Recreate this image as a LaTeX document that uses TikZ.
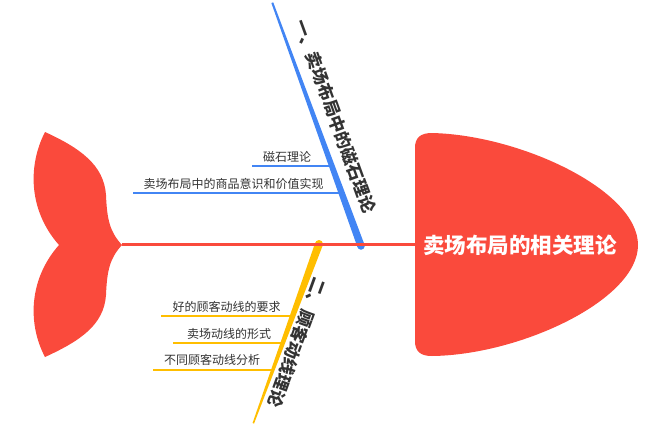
\documentclass[tikz,border=0pt]{standalone}
\usepackage{fontspec}
\setmainfont{Noto Sans CJK SC}
\usetikzlibrary{calc}
\definecolor{fishred}{RGB}{250,74,60}
\definecolor{bblue}{RGB}{66,133,244}
\definecolor{byellow}{RGB}{255,190,0}
\definecolor{txt}{RGB}{51,51,51}
\begin{document}
\begin{tikzpicture}[x=1pt,y=-1pt,
  sublabel/.style={font=\fontsize{12}{14}\selectfont, text=txt, inner sep=0pt},
  branchlabel/.style={font=\fontsize{17}{19}\selectfont\bfseries, text=txt, inner sep=0pt},
  subline/.style={line width=2pt},
  headlabel/.style={font=\fontsize{21.5}{24}\selectfont\bfseries, text=white, inner sep=0pt}
]
\useasboundingbox (0,0) rectangle (651,434);
% tail
\fill[fishred] (122,245) .. controls (110,232) and (107,220) .. (106,195)
  .. controls (104,165) and (80,148) .. (45,132)
  .. controls (28,165) and (28,210) .. (59,245)
  .. controls (28,280) and (28,325) .. (45,357)
  .. controls (80,341) and (104,325) .. (106,295)
  .. controls (107,270) and (110,258) .. (122,245) -- cycle;
% head
\fill[fishred] (415,148) .. controls (415,138) and (420,133) .. (432,133)
  .. controls (520,135) and (638,190) .. (638,245)
  .. controls (638,300) and (520,355) .. (432,356)
  .. controls (420,356) and (415,351) .. (415,341) -- cycle;
\node[headlabel] (head) at (520,245) {卖场布局的相关理论};
% key points
\coordinate (tailtip) at (122,244.5);
\coordinate (headleft) at (415,244.5);
\coordinate (bt) at (272.3,2.7);
\coordinate (bb) at (361,246);
\coordinate (yt) at (319,244);
\coordinate (yb) at (253.3,423.3);
% sub-branch lines
\coordinate (s1a) at (252,166); \coordinate (s1b) at (331,166);
\coordinate (s2a) at (133,193); \coordinate (s2b) at (340,193);
\coordinate (s3a) at (161,316); \coordinate (s3b) at (290,316);
\coordinate (s4a) at (173,343); \coordinate (s4b) at (281,343);
\coordinate (s5a) at (153,370); \coordinate (s5b) at (272,370);
\draw[subline, bblue] (s1a) -- (s1b);
\draw[subline, bblue] (s2a) -- (s2b);
\draw[subline, byellow] (s3a) -- (s3b);
\draw[subline, byellow] (s4a) -- (s4b);
\draw[subline, byellow] (s5a) -- (s5b);
% blue branch (tapered)
\fill[bblue] ($(bt)!1pt!90:(bb)$) -- ($(bb)!3.75pt!-90:(bt)$) -- ($(bb)!3.75pt!90:(bt)$) -- ($(bt)!1pt!-90:(bb)$) -- cycle;
\fill[bblue] (bb) circle[radius=3.75pt];
% yellow branch (tapered)
\fill[byellow] ($(yt)!4pt!90:(yb)$) -- ($(yb)!0.8pt!-90:(yt)$) -- ($(yb)!0.8pt!90:(yt)$) -- ($(yt)!4pt!-90:(yb)$) -- cycle;
\fill[byellow] (yt) circle[radius=4pt];
% spine
\draw[fishred, line width=3pt] (tailtip) -- (headleft);
% branch labels
\node[branchlabel, rotate=-70] (b1) at (335,116) {一、卖场布局中的磁石理论};
\node[branchlabel, rotate=-110] (b2) at (297,343) {二、顾客动线理论};
% sub labels
\node[sublabel] (l1) at (287,157) {磁石理论};
\node[sublabel] (l2) at (233.5,184) {卖场布局中的商品意识和价值实现};
\node[sublabel] (l3) at (226.5,307) {好的顾客动线的要求};
\node[sublabel] (l4) at (229,334) {卖场动线的形式};
\node[sublabel] (l5) at (212,360) {不同顾客动线分析};
\end{tikzpicture}
\end{document}
